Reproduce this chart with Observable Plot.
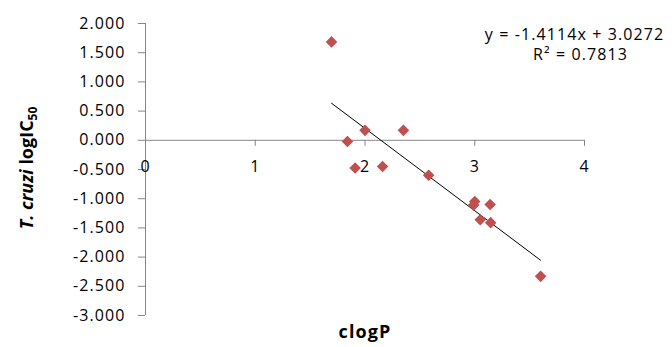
<!DOCTYPE html>
<html>
<head>
<meta charset="utf-8">
<script src="https://cdn.jsdelivr.net/npm/d3@7"></script>
<script src="https://cdn.jsdelivr.net/npm/@observablehq/plot@0.6"></script>
<style>
  html, body { margin: 0; padding: 0; background: #fff; }
  #chart svg { display: block; }
  #chart svg text { letter-spacing: 1.1px; }
  #chart svg text.ytitle { letter-spacing: 0; }
</style>
</head>
<body>
<div id="chart"></div>
<script>
// Data
const clogP   = [1.695, 1.84, 2.00, 2.35, 1.91, 2.16, 2.58, 3.00, 2.99, 3.14, 3.05, 3.145, 3.60];
const logIC50 = [1.685, -0.02, 0.17, 0.17, -0.475, -0.45, -0.60, -1.05, -1.11, -1.10, -1.36, -1.41, -2.33];
const xTicks = [0, 1, 2, 3, 4];
const yTicks = [-3, -2.5, -2, -1.5, -1, -0.5, 0, 0.5, 1, 1.5, 2];
const slope = -1.4114;
const intercept = 3.0272;
const eqLine1 = "y = -1.4114x + 3.0272";
const eqLine2 = "R\u00B2 = 0.7813";
const xTitle = "clogP";

const points = clogP.map((x, i) => ({x, y: logIC50[i]}));
const [xMin, xMax] = d3.extent(clogP);
const trend = [xMin, xMax].map(x => ({x, y: slope * x + intercept}));

const gray = "#868686";
const font = "'Open Sans', sans-serif";

const chart = Plot.plot({
  width: 672,
  height: 347,
  marginLeft: 145,
  marginRight: 88,
  marginTop: 23,
  marginBottom: 32,
  style: {fontFamily: font, fontSize: "16px", color: "#000", background: "#fff", overflow: "visible"},
  x: {domain: [0, 4], axis: null},
  y: {domain: [-3, 2], axis: null},
  marks: [
    Plot.ruleX([0], {stroke: gray, strokeWidth: 1}),
    Plot.ruleY([0], {stroke: gray, strokeWidth: 1}),
    Plot.axisY({ticks: yTicks, tickFormat: d => d.toFixed(3), tickSize: 7, tickPadding: 13, stroke: gray, fill: "#000", fontSize: 16, label: null}),
    Plot.ruleX(xTicks, {x: d => d, y1: 0, y2: 0, insetBottom: -6, stroke: gray}),
    Plot.text(xTicks, {x: d => d, y: 0, text: d => String(d), dy: 27, fontSize: 16, fill: "#000"}),
    Plot.line(trend, {x: "x", y: "y", stroke: "#000", strokeWidth: 1}),
    Plot.dot(points, {x: "x", y: "y", symbol: "diamond2", r: 5.2, fill: "#C0504D", stroke: "none"}),
    Plot.text([eqLine1], {frameAnchor: "top-right", text: d => d, dx: -10, dy: 5, textAnchor: "middle", fontSize: 16, fill: "#000"}),
    Plot.text([eqLine2], {frameAnchor: "top-right", text: d => d, dx: -4, dy: 25, textAnchor: "middle", fontSize: 16, fill: "#000"}),
    Plot.text([xTitle], {frameAnchor: "bottom", text: d => d, dy: 22, fontSize: 18, fontWeight: "bold", fill: "#000"})
  ]
});

// Y axis title with mixed styling (italic species name, subscript)
const svg = d3.select(chart);
const yt = svg.append("text")
  .attr("class", "ytitle")
  .attr("transform", "translate(33,168) rotate(-90)")
  .attr("text-anchor", "middle")
  .attr("font-family", font)
  .attr("font-weight", "bold")
  .attr("font-size", 18)
  .attr("fill", "#000");
yt.append("tspan").attr("font-style", "italic").text("T. cruzi");
yt.append("tspan").text(" logIC");
yt.append("tspan").attr("font-size", 12).attr("dy", 4).text("50");

document.getElementById("chart").append(chart);
</script>
</body>
</html>
